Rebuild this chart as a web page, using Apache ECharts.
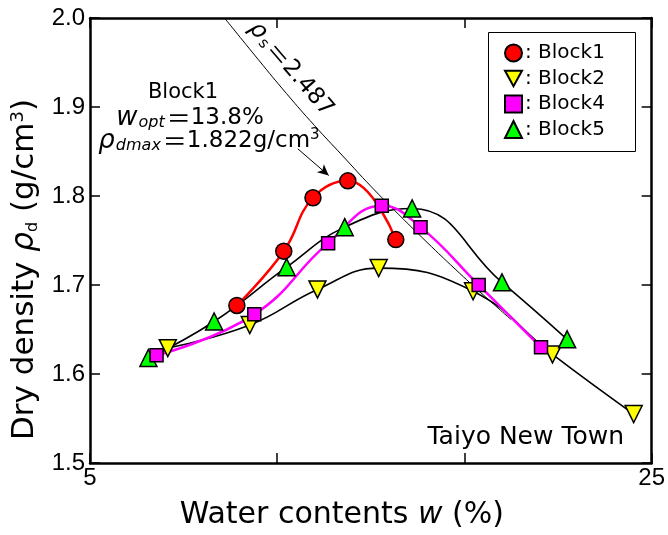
<!DOCTYPE html>
<html>
<head>
<meta charset="utf-8">
<script src="https://cdn.jsdelivr.net/npm/echarts@6/dist/echarts.min.js"></script>
<style>
body{margin:0;background:#fff}
#chart{width:668px;height:535px}
</style>
</head>
<body>
<div id="chart"></div>
<script>
// values
let block1W = [10.23, 11.90, 12.94, 14.18, 15.89]
let block1Rho = [1.677, 1.738, 1.798, 1.817, 1.751]

let block2W = [7.77, 10.69, 13.10, 15.28, 18.64, 21.47, 24.36]
let block2Rho = [1.629, 1.655, 1.695, 1.719, 1.693, 1.622, 1.555]

let block4W = [7.37, 10.85, 13.48, 15.39, 16.77, 18.84, 21.06]
let block4Rho = [1.621, 1.667, 1.747, 1.789, 1.765, 1.700, 1.630]

let block5W = [7.08, 9.42, 12.00, 14.07, 16.47, 19.67, 21.99]
let block5Rho = [1.618, 1.659, 1.720, 1.765, 1.786, 1.703, 1.639]

// zero air void curve, rho_s = 2.487
let zavW = [9.79, 11, 12, 13, 14, 15, 16, 17, 18, 19, 20]
let zavRho = [2.0, 1.953, 1.915, 1.879, 1.845, 1.811, 1.779, 1.748, 1.718, 1.689, 1.661]

let xTicks = [5, 11.667, 18.333, 25]
let xLabels = [5, 25]
let arrowFrom = [12.4, 1.853]
let arrowTo = [13.5, 1.823]

const FONT = "Liberation Sans, Arial, sans-serif"
const WIDE = "DejaVu Sans, sans-serif"
const CJK = "Noto Sans CJK JP"

function pairs(xs, ys){
    return xs.map(function(x, i){ return [x, ys[i]] })
}

function blockSeries(name, xs, ys, symbol, size, fill, lineColor, lineWidth, rotate){
    return {
        name: name,
        type: "line",
        smooth: 0.45,
        data: pairs(xs, ys),
        symbol: symbol,
        symbolSize: size,
        symbolRotate: rotate || 0,
        showAllSymbol: true,
        lineStyle: { color: lineColor, width: lineWidth },
        itemStyle: { color: fill, borderColor: "#000", borderWidth: 1.5, opacity: 1 },
        emphasis: { disabled: true },
        z: 3
    }
}

let axisLine = { show: true, lineStyle: { color: "#000", width: 2.5 } }
let tickStyle = { inside: true, length: 10, lineStyle: { color: "#000", width: 1.5 } }

let chart = echarts.init(document.getElementById("chart"))

let s1 = blockSeries("Block1", block1W, block1Rho, "circle", 16, "#ff0000", "#ff0000", 2.5)
s1.markLine = {
    silent: true,
    symbol: ["none", "arrow"],
    symbolSize: [8, 11],
    label: { show: false },
    lineStyle: { color: "#000", width: 1, type: "solid" },
    data: [[{ coord: arrowFrom }, { coord: arrowTo }]]
}

chart.setOption({
    animation: false,
    backgroundColor: "#fff",
    textStyle: { fontFamily: FONT, color: "#000" },
    grid: { left: 90, right: 16, top: 18, bottom: 69 },
    xAxis: [{
        type: "value", min: 5, max: 25,
        axisLine: axisLine,
        splitLine: { show: false },
        axisTick: Object.assign({ customValues: xTicks }, tickStyle),
        axisLabel: { customValues: xLabels, fontSize: 24, color: "#000", fontFamily: FONT, margin: 3 },
        name: "Water contents {i|w} (%)",
        nameLocation: "middle",
        nameGap: 37,
        nameTextStyle: {
            fontSize: 30, color: "#000", fontFamily: WIDE,
            padding: [0, 58, 0, 0],
            rich: { i: { fontSize: 30, fontStyle: "italic", fontFamily: WIDE } }
        }
    }, {
        type: "value", min: 5, max: 25, position: "top",
        axisLine: axisLine,
        splitLine: { show: false },
        axisTick: Object.assign({ customValues: xTicks }, tickStyle),
        axisLabel: { show: false }
    }],
    yAxis: [{
        type: "value", min: 1.5, max: 2.0, interval: 0.1,
        axisLine: axisLine,
        splitLine: { show: false },
        axisTick: tickStyle,
        axisLabel: { fontSize: 24, color: "#000", fontFamily: FONT, margin: 5,
            formatter: function(v){ return v.toFixed(1) } },
        name: "Dry density {i|ρ}{sub|d} (g/cm{sup|3})",
        nameLocation: "middle",
        nameGap: 45,
        nameRotate: 90,
        nameTextStyle: {
            fontSize: 31, color: "#000", fontFamily: WIDE,
            padding: [0, 58, 0, 0],
            rich: {
                i: { fontSize: 31, fontStyle: "italic", fontFamily: WIDE },
                sub: { fontSize: 16, fontFamily: WIDE, verticalAlign: "bottom" },
                sup: { fontSize: 18, fontFamily: WIDE, verticalAlign: "top" }
            }
        }
    }, {
        type: "value", min: 1.5, max: 2.0, interval: 0.1, position: "right",
        axisLine: axisLine,
        splitLine: { show: false },
        axisTick: tickStyle,
        axisLabel: { show: false }
    }],
    legend: {
        orient: "vertical",
        left: 499, top: 38,
        itemWidth: 17, itemHeight: 17,
        itemGap: 5.5,
        formatter: ": {name}",
        textStyle: { fontSize: 20, color: "#000", fontFamily: WIDE, padding: [0, 0, 0, -2] },
        selectedMode: false,
        data: [
            { name: "Block1", icon: "circle" },
            { name: "Block2", icon: "path://M0,0L2,0L1,1.8Z" },
            { name: "Block4", icon: "rect", itemHeight: 14 },
            { name: "Block5", icon: "triangle" }
        ]
    },
    graphic: [
        { type: "rect", shape: { x: 488.5, y: 32.5, width: 147, height: 119 },
          style: { fill: "none", stroke: "#000", lineWidth: 1 }, z: 1 },
        { type: "text", x: 183, y: 93, z: 5,
          style: { text: "Block1", font: "21px " + WIDE, fill: "#000", align: "center", verticalAlign: "middle" } },
        { type: "text", x: 190, y: 118, z: 5,
          style: {
            text: "{i|w}{s|opt}{e|＝}{n|13.8%}",
            align: "center", verticalAlign: "middle", fill: "#000",
            rich: {
                i: { font: "italic 26px " + WIDE },
                s: { font: "italic 16px " + WIDE, verticalAlign: "bottom", padding: [0, 2, 0, 1] },
                e: { font: "24px " + CJK },
                n: { font: "23px " + WIDE }
            }
          } },
        { type: "text", x: 209, y: 141, z: 5,
          style: {
            text: "{i|ρ}{s|dmax}{e|＝}{n|1.822g/cm}{p|3}",
            align: "center", verticalAlign: "middle", fill: "#000",
            rich: {
                i: { font: "italic 26px " + WIDE },
                s: { font: "italic 16px " + WIDE, verticalAlign: "bottom", padding: [0, 2, 0, 1] },
                e: { font: "24px " + CJK },
                n: { font: "23px " + WIDE },
                p: { font: "15px " + WIDE, verticalAlign: "top" }
            }
          } },
        { type: "text", x: 291, y: 69, rotation: -0.86, z: 5,
          style: {
            text: "{i|ρ}{s|s}{e|＝}{n|2.487}",
            align: "center", verticalAlign: "middle", fill: "#000",
            rich: {
                i: { font: "italic 24px " + WIDE },
                s: { font: "15px " + WIDE, verticalAlign: "bottom", padding: [0, 2, 0, 2] },
                e: { font: "24px " + CJK },
                n: { font: "23px " + WIDE }
            }
          } },
        { type: "text", x: 624, y: 437, z: 5,
          style: { text: "Taiyo New Town", font: "25px " + WIDE, fill: "#000", align: "right", verticalAlign: "middle" } }
    ],
    series: [
        {
            name: "zav",
            type: "line",
            smooth: true,
            data: pairs(zavW, zavRho),
            symbol: "none",
            lineStyle: { color: "#000", width: 1 },
            emphasis: { disabled: true },
            silent: true,
            z: 1
        },
        blockSeries("Block2", block2W, block2Rho, "triangle", 17, "#ffff00", "#000", 1.6, 180),
        blockSeries("Block5", block5W, block5Rho, "triangle", 17, "#00ff00", "#000", 1.6),
        blockSeries("Block4", block4W, block4Rho, "rect", 13, "#ff00ff", "#ff00ff", 2.5),
        s1
    ]
})
</script>
</body>
</html>
